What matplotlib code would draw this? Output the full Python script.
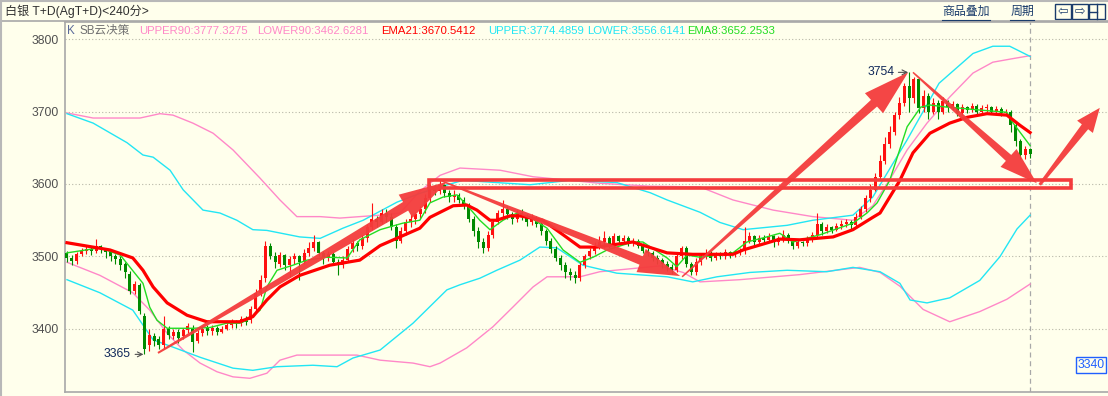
import numpy as np
import matplotlib
matplotlib.use("Agg")
import matplotlib.pyplot as plt
from matplotlib.patches import Polygon, Rectangle
from matplotlib.lines import Line2D
from matplotlib.transforms import IdentityTransform

plt.rcParams['font.family'] = ['Liberation Sans', 'Noto Sans CJK SC', 'DejaVu Sans']

# candle data, one value per 240-minute bar
opens = [3505, 3498, 3494, 3503, 3508, 3511, 3507, 3514, 3510, 3506,
         3500, 3497, 3490, 3476, 3452, 3460, 3418, 3378, 3390, 3386,
         3378, 3400, 3390, 3396, 3390, 3398, 3402, 3384, 3394, 3402,
         3397, 3402, 3396, 3400, 3405, 3410, 3408, 3414, 3412, 3428,
         3450, 3470, 3515, 3500, 3490, 3502, 3488, 3496, 3500, 3493,
         3505, 3512, 3520, 3505, 3498, 3503, 3492, 3488, 3495, 3510,
         3518, 3515, 3525, 3540, 3552, 3548, 3560, 3555, 3540, 3522,
         3535, 3548, 3552, 3558, 3565, 3580, 3595, 3590, 3598, 3588,
         3582, 3585, 3578, 3570, 3552, 3535, 3520, 3512, 3530, 3548,
         3560, 3566, 3558, 3552, 3560, 3555, 3548, 3553, 3545, 3535,
         3522, 3510, 3498, 3488, 3478, 3475, 3470, 3488, 3500, 3508,
         3515, 3520, 3525, 3515, 3528, 3522, 3526, 3518, 3522, 3515,
         3508, 3505, 3498, 3495, 3490, 3485, 3482, 3500, 3512, 3490,
         3478, 3492, 3500, 3505, 3498, 3503, 3500, 3506, 3502, 3505,
         3508, 3522, 3528, 3520, 3526, 3523, 3528, 3520, 3525, 3530,
         3522, 3515, 3520, 3518, 3524, 3530, 3545, 3535, 3540, 3537,
         3542, 3545, 3548, 3543, 3555, 3565, 3580, 3592, 3610, 3632,
         3655, 3672, 3695, 3712, 3735, 3718, 3745, 3705, 3722, 3700,
         3712, 3700, 3714, 3706, 3710, 3698, 3706, 3702, 3708, 3700,
         3705, 3706, 3700, 3704, 3698, 3700, 3682, 3660, 3640, 3648]
closes = [3498, 3494, 3503, 3508, 3511, 3507, 3514, 3510, 3506, 3500,
          3497, 3488, 3478, 3452, 3462, 3425, 3372, 3392, 3383, 3378,
          3400, 3392, 3396, 3388, 3398, 3404, 3382, 3395, 3400, 3397,
          3402, 3396, 3400, 3405, 3410, 3408, 3414, 3410, 3428, 3450,
          3468, 3515, 3500, 3492, 3502, 3488, 3496, 3500, 3493, 3505,
          3512, 3520, 3505, 3498, 3503, 3492, 3488, 3495, 3510, 3518,
          3515, 3525, 3540, 3552, 3548, 3560, 3555, 3540, 3522, 3535,
          3548, 3552, 3558, 3565, 3580, 3595, 3590, 3598, 3588, 3582,
          3585, 3578, 3570, 3552, 3535, 3520, 3512, 3530, 3548, 3560,
          3566, 3558, 3552, 3560, 3555, 3548, 3553, 3545, 3535, 3522,
          3510, 3498, 3488, 3478, 3475, 3470, 3488, 3500, 3508, 3515,
          3520, 3525, 3515, 3528, 3522, 3526, 3518, 3522, 3515, 3508,
          3505, 3498, 3495, 3490, 3485, 3482, 3500, 3512, 3490, 3478,
          3492, 3500, 3505, 3498, 3503, 3500, 3506, 3502, 3505, 3508,
          3522, 3528, 3520, 3526, 3523, 3528, 3520, 3525, 3530, 3522,
          3515, 3520, 3518, 3524, 3530, 3545, 3535, 3540, 3537, 3542,
          3545, 3548, 3543, 3555, 3565, 3580, 3592, 3610, 3632, 3655,
          3672, 3695, 3712, 3735, 3718, 3745, 3705, 3722, 3700, 3712,
          3700, 3714, 3706, 3710, 3698, 3706, 3702, 3708, 3700, 3705,
          3706, 3700, 3704, 3698, 3700, 3682, 3660, 3640, 3648, 3642]
highs = [3508, 3502, 3506, 3512, 3515, 3513, 3524, 3516, 3512, 3508,
         3504, 3500, 3492, 3480, 3466, 3463, 3422, 3400, 3394, 3390,
         3418, 3404, 3400, 3400, 3402, 3408, 3405, 3398, 3404, 3405,
         3406, 3404, 3404, 3410, 3414, 3413, 3418, 3418, 3432, 3455,
         3474, 3522, 3518, 3506, 3506, 3504, 3500, 3505, 3502, 3510,
         3520, 3530, 3522, 3508, 3507, 3506, 3496, 3500, 3514, 3524,
         3522, 3530, 3545, 3574, 3556, 3566, 3566, 3560, 3545, 3540,
         3552, 3558, 3562, 3570, 3586, 3600, 3598, 3605, 3600, 3592,
         3592, 3588, 3582, 3574, 3556, 3540, 3526, 3535, 3552, 3564,
         3578, 3570, 3562, 3564, 3565, 3558, 3558, 3556, 3548, 3538,
         3525, 3514, 3502, 3492, 3484, 3480, 3492, 3504, 3512, 3520,
         3528, 3535, 3528, 3532, 3530, 3530, 3528, 3525, 3524, 3518,
         3512, 3508, 3502, 3498, 3494, 3490, 3504, 3515, 3514, 3493,
         3498, 3505, 3510, 3508, 3506, 3506, 3510, 3508, 3509, 3512,
         3540, 3534, 3530, 3530, 3530, 3532, 3530, 3528, 3536, 3532,
         3526, 3524, 3522, 3528, 3534, 3560, 3548, 3545, 3542, 3546,
         3550, 3552, 3550, 3560, 3570, 3585, 3600, 3615, 3640, 3665,
         3680, 3700, 3720, 3740, 3754, 3748, 3746, 3730, 3725, 3718,
         3716, 3720, 3716, 3714, 3712, 3710, 3708, 3712, 3710, 3709,
         3710, 3708, 3707, 3706, 3704, 3702, 3684, 3662, 3652, 3650]
lows = [3492, 3488, 3490, 3500, 3504, 3502, 3505, 3505, 3498, 3494,
        3490, 3482, 3470, 3448, 3448, 3420, 3365, 3370, 3376, 3372,
        3372, 3386, 3386, 3380, 3386, 3394, 3368, 3380, 3390, 3392,
        3392, 3392, 3394, 3398, 3402, 3402, 3404, 3406, 3408, 3425,
        3445, 3465, 3496, 3484, 3486, 3482, 3472, 3490, 3468, 3490,
        3500, 3508, 3500, 3490, 3494, 3488, 3475, 3484, 3492, 3506,
        3508, 3510, 3520, 3536, 3540, 3545, 3548, 3536, 3512, 3518,
        3530, 3540, 3545, 3552, 3560, 3575, 3585, 3586, 3582, 3575,
        3575, 3574, 3565, 3548, 3528, 3512, 3505, 3508, 3526, 3545,
        3555, 3552, 3545, 3548, 3550, 3542, 3543, 3540, 3530, 3516,
        3505, 3494, 3482, 3470, 3468, 3464, 3466, 3484, 3496, 3504,
        3510, 3512, 3512, 3512, 3518, 3518, 3514, 3515, 3512, 3505,
        3500, 3494, 3490, 3484, 3480, 3476, 3478, 3496, 3485, 3474,
        3474, 3488, 3496, 3494, 3495, 3496, 3497, 3498, 3499, 3502,
        3504, 3518, 3515, 3516, 3518, 3520, 3513, 3516, 3520, 3518,
        3510, 3512, 3514, 3515, 3520, 3526, 3530, 3532, 3533, 3535,
        3538, 3540, 3538, 3540, 3552, 3562, 3575, 3590, 3606, 3628,
        3650, 3668, 3690, 3708, 3700, 3712, 3698, 3700, 3690, 3696,
        3690, 3696, 3700, 3702, 3694, 3695, 3698, 3699, 3696, 3698,
        3700, 3696, 3698, 3694, 3695, 3672, 3652, 3634, 3634, 3636]

# indicator lines (bar position, value)
ema21_x = [0, 8.9, 13.6, 15.7, 17.8, 20.7, 24.8, 28.9, 35.7, 38.4,
           41.3, 44, 48.1, 54.3, 60.5, 64.7, 72.9, 75, 79.8, 82.6,
           84.7, 87.4, 88.8, 91.5, 93.6, 98.3, 102.5, 106, 109.5, 116.9,
           124, 129.3, 137.6, 139.7, 147.3, 151.4, 158.3, 162.4, 166.5, 168,
           172.1, 174.8, 178.3, 182.4, 186, 190.1, 194.2, 196.9, 199]
ema21 = [3519, 3509, 3498, 3481, 3458, 3436, 3419, 3410, 3410, 3417,
         3440, 3458, 3474, 3488, 3495, 3515, 3539, 3554, 3570, 3571,
         3564, 3550, 3550, 3556, 3556, 3550, 3530, 3513, 3513, 3520,
         3505, 3503, 3503, 3509, 3524, 3523, 3527, 3537, 3554, 3560,
         3605, 3643, 3670, 3684, 3692, 3697, 3695, 3681, 3671]

ema8_x = [0, 6.8, 11, 15.7, 17.1, 18.6, 20.7, 26, 29.5, 33,
          35.7, 37.2, 39.9, 41.3, 43.4, 46.7, 49.6, 53.7, 57.9, 60.5,
          64.7, 69.4, 72.9, 75, 77.7, 80.6, 82.6, 85.3, 87.4, 90.1,
          93, 95.7, 99.2, 102.5, 106, 108.7, 111.6, 116.9, 119, 124,
          126, 128.1, 130.8, 137.6, 140.5, 144.6, 147.3, 150, 155.6, 162.4,
          165.3, 167.4, 170, 173.6, 176.4, 178.3, 181.8, 183.9, 188.6, 194.2,
          195.5, 199]
ema8 = [3505, 3512, 3502, 3463, 3430, 3412, 3401, 3401, 3402, 3408,
        3408, 3412, 3426, 3458, 3481, 3488, 3495, 3499, 3498, 3523,
        3537, 3546, 3550, 3574, 3582, 3585, 3571, 3550, 3537, 3550,
        3560, 3554, 3539, 3509, 3492, 3499, 3509, 3520, 3520, 3498,
        3486, 3502, 3499, 3505, 3520, 3527, 3532, 3520, 3530, 3546,
        3560, 3574, 3605, 3679, 3706, 3709, 3706, 3705, 3702, 3699,
        3684, 3653]

upper90_x = [0, 5.4, 15.1, 19.2, 21.9, 26, 30.2, 34.3, 39.9, 44,
             47.5, 52.3, 56.4, 60.5, 64.7, 68.8, 72.9, 77.1, 81.2, 89.5,
             96.3, 103.9, 110.1, 120.5, 130.8, 137.6, 145.9, 154.1, 162.4, 166.5,
             170, 173.6, 177.7, 182.4, 187.2, 191.3, 195.5, 199]
upper90 = [3698, 3691, 3691, 3697, 3695, 3684, 3670, 3647, 3608, 3578,
           3555, 3555, 3553, 3555, 3557, 3560, 3590, 3612, 3622, 3619,
           3610, 3605, 3601, 3597, 3596, 3578, 3564, 3555, 3550, 3570,
           3606, 3647, 3684, 3720, 3753, 3768, 3773, 3777]

lower90_x = [0, 6.8, 13.6, 17.1, 20.7, 24, 27.5, 31, 34.3, 37.8,
             41.3, 44, 47.5, 59.9, 64.7, 71.5, 75, 77.1, 82.6, 88,
             92.1, 96.3, 99.2, 106, 110.1, 122.5, 127.3, 130.8, 139, 151.4,
             163.8, 168, 172.1, 176.9, 182.4, 188.6, 194.2, 199]
lower90 = [3492, 3474, 3450, 3426, 3394, 3371, 3353, 3341, 3334, 3332,
           3339, 3357, 3364, 3364, 3357, 3353, 3348, 3353, 3374, 3403,
           3430, 3458, 3472, 3472, 3479, 3487, 3478, 3465, 3468, 3475,
           3485, 3478, 3459, 3427, 3410, 3424, 3441, 3462]

upper_x = [0, 5.4, 12.4, 15.7, 17.8, 21.3, 24, 28.1, 31.6, 35.1,
           38.4, 41.3, 48.1, 52.3, 57, 61.2, 68.2, 72.9, 77.1, 81.8,
           95.7, 103.9, 113.6, 120.5, 124, 130.8, 134.9, 139.7, 148.8, 154.1,
           162.4, 166.5, 173.6, 180.2, 187.2, 191.3, 194.8, 199]
upper = [3697, 3684, 3657, 3640, 3637, 3619, 3592, 3564, 3560, 3550,
         3537, 3536, 3527, 3525, 3539, 3550, 3575, 3587, 3596, 3605,
         3599, 3605, 3602, 3588, 3578, 3561, 3547, 3537, 3543, 3550,
         3557, 3582, 3661, 3739, 3780, 3790, 3790, 3776]

lower_x = [0, 6.8, 13.6, 17.8, 21.9, 27.5, 34.3, 38.4, 43.4, 50.8,
           55.8, 59.1, 64.7, 71.5, 78.5, 81.2, 85.3, 88.8, 93.6, 97.7,
           101.2, 106.6, 113.6, 124, 129.3, 134.3, 141.1, 148.8, 157, 162.4,
           168, 172.1, 174.2, 177.7, 182.4, 188.6, 192.8, 196.3, 199]
lower = [3468, 3450, 3426, 3385, 3375, 3361, 3346, 3343, 3348, 3350,
         3348, 3360, 3371, 3408, 3454, 3461, 3470, 3481, 3495, 3513,
         3512, 3488, 3477, 3472, 3465, 3472, 3478, 3481, 3479, 3485,
         3479, 3463, 3440, 3436, 3443, 3467, 3500, 3538, 3557]

legend_items = ["UPPER90:3777.3275", "LOWER90:3462.6281", "EMA21:3670.5412",
                "UPPER:3774.4859", "LOWER:3556.6141", "EMA8:3652.2533"]
y_ticks = [3400, 3500, 3600, 3700, 3800]

# hand drawn marks: arrows (start, end) and the box around 3600
arrows = [((18.8, 3367), (78.5, 3603)),
          ((77.5, 3604), (126.7, 3473)),
          ((127.1, 3472), (173.8, 3754)),
          ((174.8, 3754), (200.4, 3601)),
          ((201.0, 3599), (213.4, 3705))]
box_x = [74.9, 207.5]
box_y = [3594, 3606]

BG = '#FFFFEC'
PINK = '#FF88C8'
CYAN = '#22E6F4'
RED = '#FF0000'
GREEN = '#22DD22'
ARROW = '#F43C3C'

W, H = 1108, 396
fig = plt.figure(figsize=(W / 100, H / 100), dpi=100, facecolor=BG)


def fx(x):
    return x / W


def fy(y):
    return 1 - y / H


ax = fig.add_axes([fx(65), 4 / H, (W - 65) / W, (392 - 22) / H])
ax.set_facecolor(BG)
ax.set_xlim(-0.41, 215.1)
ax.set_ylim(3313.1, 3823.45)

for s in ['left', 'bottom', 'top']:
    ax.spines[s].set_color('#A8A8A8')
    ax.spines[s].set_linewidth(1.2)
ax.spines['right'].set_visible(False)
ax.set_xticks([])
ax.set_yticks(y_ticks)
ax.set_yticklabels([str(v) for v in y_ticks])
ax.tick_params(axis='y', length=0, pad=4.5, labelsize=8.7, labelcolor='#505050')
ax.grid(axis='y', color='#B8B8A8', linestyle=(0, (1, 2)), linewidth=0.8)
ax.set_axisbelow(True)

# bands
ax.plot(upper90_x, upper90, color=PINK, lw=1.0, zorder=2)
ax.plot(lower90_x, lower90, color=PINK, lw=1.0, zorder=2)
ax.plot(upper_x, upper, color=CYAN, lw=1.0, zorder=2)
ax.plot(lower_x, lower, color=CYAN, lw=1.0, zorder=2)

# candles
idx = np.arange(len(closes))
o = np.array(opens, float)
c = np.array(closes, float)
cols = np.where(c > o, '#FF1010', np.where(c < o, '#008A00', '#202020'))
ax.vlines(idx, lows, highs, colors=cols, lw=0.8, zorder=3)
body = np.maximum(np.abs(c - o), 1.0)
ax.bar(idx, body, bottom=np.minimum(o, c), width=0.62, color=cols,
       linewidth=0, zorder=3)

# moving averages
ax.plot(ema8_x, ema8, color=GREEN, lw=1.0, zorder=4)
ax.plot(ema21_x, ema21, color=RED, lw=2.3, zorder=4)

# current bar cursor
ax.axvline(len(closes) - 1, color='#A8A8A8', ls=(0, (4, 3)), lw=0.9, zorder=1)

# box around the 3600 level
ax.add_patch(Rectangle((box_x[0], box_y[0]), box_x[1] - box_x[0], box_y[1] - box_y[0],
                       fill=False, edgecolor=ARROW, lw=2.6, zorder=5))


def fat_arrow(p0, p1, w0, w1, head_w, head_len):
    t = ax.transData
    a = np.array(t.transform(p0))
    b = np.array(t.transform(p1))
    d = b - a
    u = d / np.hypot(*d)
    n = np.array([-u[1], u[0]])
    base = b - u * head_len
    pts = [a + n * w0 / 2, base + n * w1 / 2, base + n * head_w / 2, b,
           base - n * head_w / 2, base - n * w1 / 2, a - n * w0 / 2]
    ax.add_patch(Polygon(pts, closed=True, transform=IdentityTransform(),
                         facecolor=ARROW, edgecolor='none', alpha=0.95,
                         zorder=6, clip_on=False))


sizes = [(2, 10, 27, 48), (1.5, 9, 25, 42), (1.5, 9, 27, 46), (1.5, 8, 24, 38), (3, 8, 20, 24)]
for (p0, p1), (w0, w1, hw, hl) in zip(arrows, sizes):
    fat_arrow(p0, p1, w0, w1, hw, hl)

# extreme labels
lo_i = int(np.argmin(lows))
hi_i = int(np.argmax(highs))
ax.annotate(str(int(min(lows))), xy=(lo_i - 0.2, min(lows)), xytext=(-9, 0),
            textcoords='offset points', ha='right', va='center', fontsize=8.7,
            color='#10285A', arrowprops=dict(arrowstyle='->', color='#505050', lw=0.8,
                                             shrinkA=1, shrinkB=0), zorder=7)
ax.annotate(str(int(max(highs))), xy=(hi_i - 0.2, max(highs)), xytext=(-10, 0),
            textcoords='offset points', ha='right', va='center', fontsize=8.7,
            color='#10285A', arrowprops=dict(arrowstyle='->', color='#505050', lw=0.8,
                                             shrinkA=1, shrinkB=0), zorder=7)

# header bar
fig.add_artist(Line2D([0, 1], [fy(21), fy(21)], color='#A8A8A8', lw=1.2))
fig.add_artist(Line2D([0, 1], [fy(0.5), fy(0.5)], color='#B8B8B8', lw=1.5))
fig.add_artist(Line2D([fx(0.7), fx(0.7)], [0, 1], color='#B8B8B8', lw=1.5))
fig.text(fx(5), fy(11.5), "白银 T+D(AgT+D)<240分>", fontsize=8.7, color='#303030',
         va='center', ha='left')
nav = '#1A3C6C'
fig.text(fx(966), fy(11.5), "商品叠加", fontsize=8.6, color=nav, ha='center', va='center')
fig.add_artist(Line2D([fx(942), fx(990)], [fy(19.5), fy(19.5)], color=nav, lw=0.8))
fig.text(fx(1022), fy(11.5), "周期", fontsize=8.6, color=nav, ha='center', va='center')
fig.add_artist(Line2D([fx(1010), fx(1034)], [fy(19.5), fy(19.5)], color=nav, lw=0.8))
for bx, sym in [(1055, '⇦'), (1072, '⇨'), (1089, '')]:
    fig.add_artist(Rectangle((fx(bx), fy(19)), 16 / W, 15 / H, fill=False,
                             edgecolor=nav, lw=1.0, transform=fig.transFigure))
    if sym:
        fig.text(fx(bx + 8), fy(11.5), sym, fontsize=9, color=nav, ha='center',
                 va='center', family='DejaVu Sans')
fig.add_artist(Line2D([fx(1097), fx(1097)], [fy(19), fy(4)], color=nav, lw=1.0))
fig.add_artist(Line2D([fx(1089), fx(1097)], [fy(11.5), fy(11.5)], color=nav, lw=1.0))

# indicator legend row
fig.text(fx(67), fy(31), "K", fontsize=8.4, color='#5A6A9A', va='center')
fig.text(fx(80), fy(31), "SB云决策", fontsize=8.4, color='#707070', va='center')
legend_x = [139, 257, 381, 488, 587, 687]
legend_c = [PINK, PINK, RED, CYAN, CYAN, GREEN]
for txt, lx, lc in zip(legend_items, legend_x, legend_c):
    fig.text(fx(lx), fy(31), txt, fontsize=8.2, color=lc, va='center', ha='left')

# price tag at the right edge
fig.text(fx(1091), fy(365), "3340", fontsize=8.7, color='#2060FF', ha='center', va='center',
         bbox=dict(boxstyle='square,pad=0.15', facecolor=BG, edgecolor='#2060FF', lw=1.0))

fig.savefig("out.png", dpi=100, facecolor=BG)
